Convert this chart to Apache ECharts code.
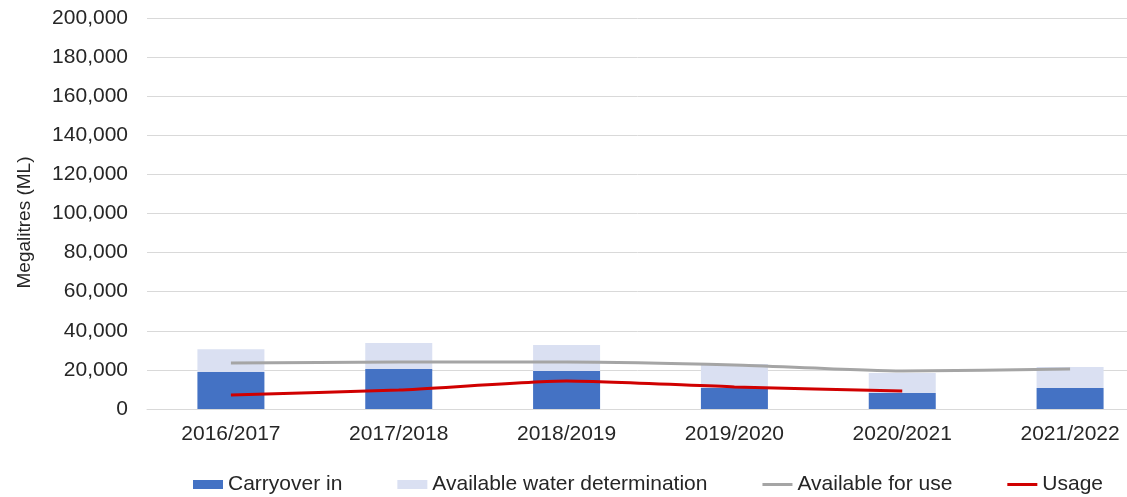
<!DOCTYPE html>
<html>
<head>
<meta charset="utf-8">
<script src="https://cdn.jsdelivr.net/npm/echarts@6/dist/echarts.min.js"></script>
<style>
html,body{margin:0;padding:0;background:#fff;}
#chart{width:1127px;height:497px;}
</style>
</head>
<body>
<div id="chart"></div>
<script>
const categories = ['2016/2017','2017/2018','2018/2019','2019/2020','2020/2021','2021/2022'];
const carryoverIn = [18900, 20500, 19500, 10700, 8200, 10700];
const availableWaterDetermination = [11600, 13300, 13200, 12300, 10200, 10800];
const availableForUse = [23500, 24000, 24000, 22500, 19400, 20500];
const usage = [7200, 9700, 14300, 11300, 9200, null];

const FONT = 'Liberation Sans, Arial, sans-serif';
const LINE_ICON = 'path://M0,3 H30 V6 H0 Z M0,0 H0.01 V9 H0 Z';
const chart = echarts.init(document.getElementById('chart'));
chart.setOption({
  animation: false,
  textStyle: { fontFamily: FONT },
  grid: { left: 147, top: 18, bottom: 88, width: 1007, outerBoundsMode: 'none', containLabel: false },
  legend: {
    left: 188, top: 469,
    itemGap: 55,
    itemWidth: 30, itemHeight: 9,
    textStyle: { fontFamily: FONT, fontSize: 21, color: '#262626' },
    data: [
      { name: 'Carryover in', icon: 'rect' },
      { name: 'Available water determination', icon: 'rect' },
      { name: 'Available for use', icon: LINE_ICON },
      { name: 'Usage', icon: LINE_ICON }
    ]
  },
  xAxis: {
    type: 'category',
    data: categories,
    axisLine: { show: true, lineStyle: { color: '#D9D9D9', width: 1 } },
    axisTick: { show: false },
    axisLabel: { fontFamily: FONT, fontSize: 21, color: '#262626', margin: 15 }
  },
  yAxis: {
    type: 'value',
    min: 0, max: 200000, interval: 20000,
    name: 'Megalitres (ML)',
    nameLocation: 'middle',
    nameGap: 113,
    nameRotate: 90,
    nameTextStyle: { fontFamily: FONT, fontSize: 19, color: '#262626', padding: [0, 18, 0, 0] },
    axisLine: { show: false },
    axisTick: { show: false },
    splitLine: { lineStyle: { color: '#D9D9D9', width: 1 } },
    axisLabel: {
      fontFamily: FONT, fontSize: 21, color: '#262626', margin: 19,
      formatter: v => v.toLocaleString('en-US')
    }
  },
  series: [
    {
      name: 'Carryover in', type: 'bar', stack: 'total',
      data: carryoverIn, barWidth: 67,
      itemStyle: { color: '#4472C4' }
    },
    {
      name: 'Available water determination', type: 'bar', stack: 'total',
      data: availableWaterDetermination, barWidth: 67,
      itemStyle: { color: '#DAE0F2' }
    },
    {
      name: 'Available for use', type: 'line',
      data: availableForUse, symbol: 'none', smooth: 0.2,
      lineStyle: { color: '#A5A5A5', width: 3 },
      itemStyle: { color: '#A5A5A5' }
    },
    {
      name: 'Usage', type: 'line',
      data: usage, symbol: 'none', smooth: 0.2,
      lineStyle: { color: '#D00000', width: 3 },
      itemStyle: { color: '#D00000' }
    }
  ]
});
</script>
</body>
</html>
